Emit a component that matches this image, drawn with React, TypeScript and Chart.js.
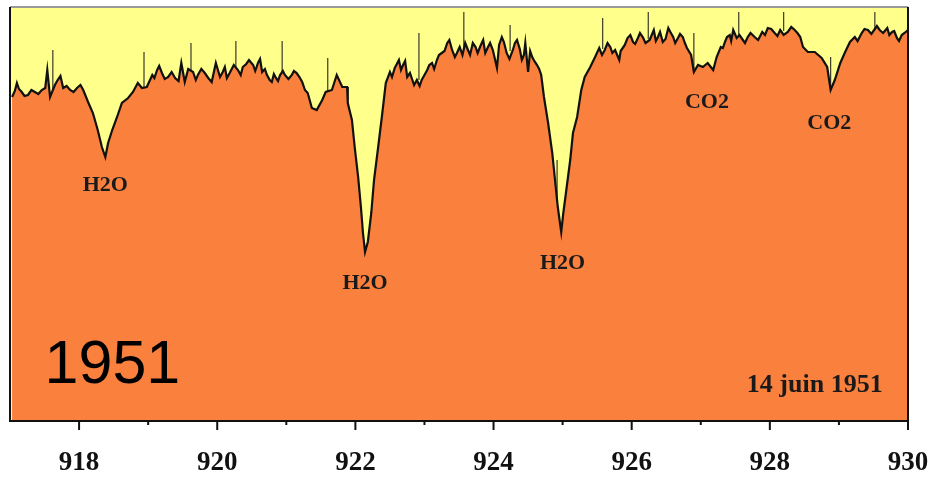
import React, { useEffect, useRef } from "react";
import { Chart, registerables } from "chart.js";

Chart.register(...registerables);

const wavelengths = [
  917.03, 917.1, 917.17, 917.26, 917.36, 917.46, 917.51, 917.54, 917.58, 917.69,
  917.77, 917.87, 917.97, 918.06, 918.13, 918.2, 918.27, 918.33, 918.38, 918.42,
  918.48, 918.55, 918.62, 918.71, 918.78, 918.85, 918.91, 918.98, 919.06, 919.13,
  919.2, 919.29, 919.39, 919.48, 919.53, 919.65, 919.72, 919.82, 919.92, 919.98,
  920.04, 920.11, 920.18, 920.3, 920.37, 920.46, 920.52, 920.59, 920.65, 920.72,
  920.79, 920.85, 920.91, 920.98, 921.08, 921.15, 921.23, 921.27, 921.31, 921.37,
  921.44, 921.52, 921.57, 921.66, 921.73, 921.81, 921.88, 921.89, 921.95, 921.99,
  922.04, 922.08, 922.11, 922.14, 922.18, 922.23, 922.27, 922.33, 922.39, 922.44,
  922.5, 922.57, 922.63, 922.69, 922.75, 922.79, 922.85, 922.89, 922.96, 923.04,
  923.11, 923.18, 923.25, 923.33, 923.4, 923.47, 923.51, 923.63, 923.7, 923.77,
  923.85, 923.92, 923.99, 924.05, 924.12, 924.19, 924.28, 924.34, 924.41, 924.46,
  924.5, 924.56, 924.63, 924.69, 924.73, 924.79, 924.85, 924.89, 924.93, 924.98,
  925.01, 925.05, 925.11, 925.15, 925.21, 925.27, 925.32, 925.4, 925.47, 925.53,
  925.61, 925.69, 925.76, 925.82, 925.87, 925.94, 926.02, 926.09, 926.16, 926.26,
  926.32, 926.38, 926.45, 926.53, 926.6, 926.67, 926.74, 926.8, 926.86, 926.9,
  926.96, 927.03, 927.1, 927.18, 927.23, 927.29, 927.35, 927.42, 927.47, 927.52,
  927.61, 927.68, 927.78, 927.89, 927.97, 928.07, 928.15, 928.26, 928.36, 928.44,
  928.48, 928.55, 928.65, 928.75, 928.83, 928.88, 928.94, 929.02, 929.09, 929.16,
  929.23, 929.33, 929.42, 929.59, 929.7, 929.77, 929.84, 929.91, 930.0,
];

const intensity = [
  324, 338, 329, 326, 329, 331, 333, 351, 324, 341,
  333, 331, 333, 331, 319, 308, 291, 274, 264, 278,
  291, 304, 318, 323, 329, 338, 333, 334, 346, 351,
  348, 344, 343, 358, 339, 349, 346, 348, 339, 358,
  344, 354, 348, 351, 354, 361, 356, 358, 349, 346,
  339, 343, 346, 346, 346, 348, 339, 331, 328, 313,
  311, 321, 329, 331, 346, 334, 334, 318, 301, 274,
  244, 214, 188, 169, 179, 208, 241, 274, 308, 338,
  349, 353, 361, 356, 344, 348, 336, 341, 341, 351,
  358, 361, 368, 378, 371, 368, 374, 371, 378, 368,
  381, 374, 371, 353, 384, 368, 371, 381, 361, 378,
  349, 364, 356, 346, 324, 298, 268, 241, 214, 189,
  208, 229, 261, 288, 304, 331, 344, 354, 364, 373,
  371, 374, 371, 361, 373, 383, 379, 383, 384, 381,
  391, 384, 379, 393, 384, 383, 384, 373, 366, 349,
  356, 354, 358, 351, 364, 374, 379, 386, 391, 383,
  381, 384, 384, 389, 393, 388, 391, 389, 391, 384,
  374, 369, 369, 363, 354, 331, 341, 358, 369, 379,
  384, 388, 391, 391, 393, 389, 383, 386, 391,
];

// Finer readings of the noisy continuum between the points above
const fineWavelengths = [
  917.07, 917.13, 917.21, 917.31, 917.41, 917.65, 917.73, 917.82, 917.92, 918.02,
  919.09, 919.16, 919.24, 919.34, 919.44, 919.58, 919.69, 919.77, 919.87, 920.08,
  920.14, 920.24, 920.34, 920.42, 920.55, 920.62, 920.69, 920.76, 920.82, 920.88,
  920.95, 921.03, 921.11, 921.19, 922.53, 922.6, 922.66, 922.72, 922.82, 922.93,
  923.0, 923.07, 923.14, 923.21, 923.29, 923.36, 923.44, 923.55, 923.59, 923.66,
  923.74, 923.81, 923.88, 923.95, 924.08, 924.15, 924.23, 924.31, 924.38, 924.44,
  924.53, 924.59, 924.66, 925.57, 925.65, 925.72, 925.79, 925.84, 925.9, 925.98,
  926.05, 926.12, 926.2, 926.29, 926.35, 926.41, 926.49, 926.56, 926.63, 926.7,
  926.77, 927.32, 927.38, 927.44, 927.56, 927.64, 927.72, 927.83, 927.93, 928.02,
  928.11, 928.2, 928.31, 928.4, 929.27, 929.37, 929.47, 929.55, 929.64, 929.73,
  929.8, 929.87, 929.95,
];
const fineIntensity = [
  330, 332, 325, 331, 327, 336, 345, 335, 329, 336,
  343, 355, 342, 349, 340, 352, 341, 352, 343, 349,
  343, 356, 346, 357, 350, 362, 352, 341, 347, 340,
  350, 342, 350, 344, 344, 357, 351, 360, 342, 335,
  346, 356, 352, 366, 370, 381, 364, 366, 378, 366,
  374, 375, 368, 378, 376, 379, 362, 378, 372, 366,
  370, 360, 352, 366, 378, 368, 366, 370, 376, 386,
  377, 388, 378, 386, 380, 389, 382, 389, 378, 387,
  378, 373, 384, 380, 386, 378, 388, 381, 386, 392,
  385, 386, 394, 388, 380, 392, 387, 395, 388, 386,
  390, 380, 388,
];

// Narrow emission-like spikes: position, foot and tip
const spikeX = [
  917.62, 918.94, 919.62, 920.27, 920.94, 921.6, 922.92, 923.57, 924.24,
  924.92, 925.58, 926.24, 926.9, 927.55, 928.2, 928.88, 929.52,
];
const spikeBase = [
  330, 333, 345, 350, 346, 325, 341, 372, 370,
  215, 372, 382, 350, 383, 390, 335, 391,
];
const spikeTop = [
  371, 369, 378, 380, 380, 363, 388, 409, 396,
  261, 403, 409, 388, 409, 409, 364, 409,
];

const xMin = 917;
const xMax = 930;
const yMin = 0;
const yMax = 414;
const tickValues = [918, 919, 920, 921, 922, 923, 924, 925, 926, 927, 928, 929, 930];

const labelTexts = ["H2O", "H2O", "H2O", "CO2", "CO2"];
const labelX = [918.38, 922.14, 925.0, 927.09, 928.86];
const labelY = [236, 138, 158, 319, 298];

const dateText = "14 juin 1951";
const yearText = "1951";

const ORANGE = "#FA803E";
const YELLOW = "#FFFF8C";

export default function App() {
  const canvasRef = useRef<HTMLCanvasElement | null>(null);

  useEffect(() => {
    document.body.style.margin = "0";
    const canvas = canvasRef.current;
    if (!canvas) return;

    const mainData = wavelengths
      .map((x, i) => ({ x, y: intensity[i] }))
      .concat(fineWavelengths.map((x, i) => ({ x, y: fineIntensity[i] })))
      .sort((a, b) => a.x - b.x);
    const spikeData: { x: number; y: number | null }[] = [];
    spikeX.forEach((x, i) => {
      spikeData.push({ x, y: spikeBase[i] });
      spikeData.push({ x, y: spikeTop[i] });
      spikeData.push({ x, y: null });
    });

    const framePlugin = {
      id: "frame",
      beforeDraw(chart: any) {
        const { ctx, chartArea } = chart;
        ctx.save();
        ctx.fillStyle = "#ffffff";
        ctx.fillRect(0, 0, chart.width, chart.height);
        ctx.fillStyle = YELLOW;
        ctx.fillRect(chartArea.left, chartArea.top, chartArea.right - chartArea.left, chartArea.bottom - chartArea.top);
        ctx.restore();
      },
      afterDatasetsDraw(chart: any) {
        const { ctx, chartArea, scales } = chart;
        const xs = scales.x;
        const ys = scales.y;
        ctx.save();
        // labels
        ctx.fillStyle = "#1a1a1a";
        ctx.textAlign = "center";
        ctx.textBaseline = "middle";
        ctx.font = "bold 22px 'Liberation Serif', 'Times New Roman', serif";
        labelTexts.forEach((t, i) => {
          ctx.fillText(t, xs.getPixelForValue(labelX[i]), ys.getPixelForValue(labelY[i]));
        });
        ctx.font = "bold 26px 'Liberation Serif', 'Times New Roman', serif";
        ctx.fillText(dateText, xs.getPixelForValue(928.65), ys.getPixelForValue(36));
        ctx.textAlign = "left";
        ctx.font = "61px 'Liberation Sans', Arial, sans-serif";
        ctx.fillStyle = "#000000";
        ctx.fillText(yearText, xs.getPixelForValue(917.5), ys.getPixelForValue(55));

        // frame
        ctx.lineWidth = 2;
        ctx.strokeStyle = "#9a9a9a";
        ctx.beginPath();
        ctx.moveTo(chartArea.left, chartArea.top);
        ctx.lineTo(chartArea.right, chartArea.top);
        ctx.stroke();
        ctx.strokeStyle = "#111111";
        ctx.beginPath();
        ctx.moveTo(chartArea.left, chartArea.top);
        ctx.lineTo(chartArea.left, chartArea.bottom);
        ctx.lineTo(chartArea.right, chartArea.bottom);
        ctx.lineTo(chartArea.right, chartArea.top);
        ctx.stroke();

        // ticks
        tickValues.forEach((v) => {
          const px = xs.getPixelForValue(v);
          const len = v % 2 === 0 ? 9 : 4;
          ctx.beginPath();
          ctx.moveTo(px, chartArea.bottom);
          ctx.lineTo(px, chartArea.bottom + len);
          ctx.stroke();
        });
        ctx.restore();
      },
    };

    const chart = new Chart(canvas, {
      type: "line",
      data: {
        datasets: [
          {
            data: mainData,
            borderColor: "#111111",
            borderWidth: 2.2,
            backgroundColor: ORANGE,
            fill: "origin",
            pointRadius: 0,
            tension: 0,
          },
          {
            data: spikeData as any,
            borderColor: "#3a3a2a",
            borderWidth: 1.2,
            fill: false,
            pointRadius: 0,
            spanGaps: false,
          },
        ],
      },
      options: {
        animation: false,
        responsive: false,
        maintainAspectRatio: false,
        layout: { padding: { left: 10, right: 22, top: 7, bottom: 0 } },
        plugins: { legend: { display: false }, tooltip: { enabled: false } },
        scales: {
          x: {
            type: "linear",
            min: xMin,
            max: xMax,
            afterBuildTicks: (scale: any) => {
              scale.ticks = tickValues.map((v) => ({ value: v }));
            },
            afterFit: (scale: any) => {
              scale.height = 56;
              scale.paddingLeft = 0;
              scale.paddingRight = 0;
            },
            grid: { display: true, drawOnChartArea: false, color: "rgba(0,0,0,0)", tickLength: 9 },
            border: { display: false },
            ticks: {
              autoSkip: false,
              maxRotation: 0,
              padding: 17,
              color: "#111111",
              font: { family: "'Liberation Serif', 'Times New Roman', serif", size: 27, weight: "bold" },
              callback: (v: any) => (Number(v) % 2 === 0 ? String(v) : ""),
            },
          },
          y: {
            display: false,
            min: yMin,
            max: yMax,
          },
        },
      },
      plugins: [framePlugin],
    });

    return () => chart.destroy();
  }, []);

  return (
    <div style={{ width: 930, height: 477 }}>
      <canvas ref={canvasRef} width={930} height={477} />
    </div>
  );
}
